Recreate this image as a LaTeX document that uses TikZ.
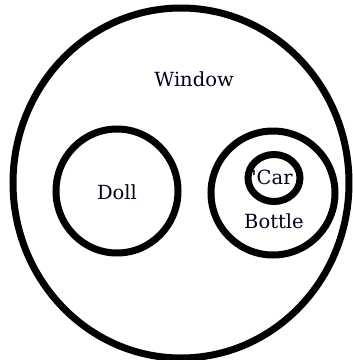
\documentclass[tikz,border=0pt]{standalone}
\usepackage{fontspec}
\setmainfont{DejaVu Serif}
\usetikzlibrary{shapes.geometric}
\begin{document}
\begin{tikzpicture}[x=1pt,y=-1pt,
  ring/.style={draw=black,line width=7pt,ellipse,inner sep=0pt,outer sep=0pt},
  lbl/.style={inner sep=0pt,font=\fontsize{19.5}{23}\selectfont,text=black!90!blue}]
\useasboundingbox[fill=white] (0,0) rectangle (353,360);
\node[ring,minimum width=336pt,minimum height=350pt] (window) at (181,183) {};
\node[ring,minimum width=122pt,minimum height=124pt] (doll) at (117,191) {};
\node[ring,minimum width=124pt,minimum height=124pt] (bottle) at (273,193) {};
\node[ring,minimum width=52pt,minimum height=47pt] (car) at (274,178) {};
\node[lbl] (twindow) at (194,79) {Window};
\node[lbl] (tdoll) at (117,192) {Doll};
\node[lbl] (tcar) at (272,177) {\textquotesingle Car};
\node[lbl] (tbottle) at (274,221) {Bottle};
\end{tikzpicture}
\end{document}
